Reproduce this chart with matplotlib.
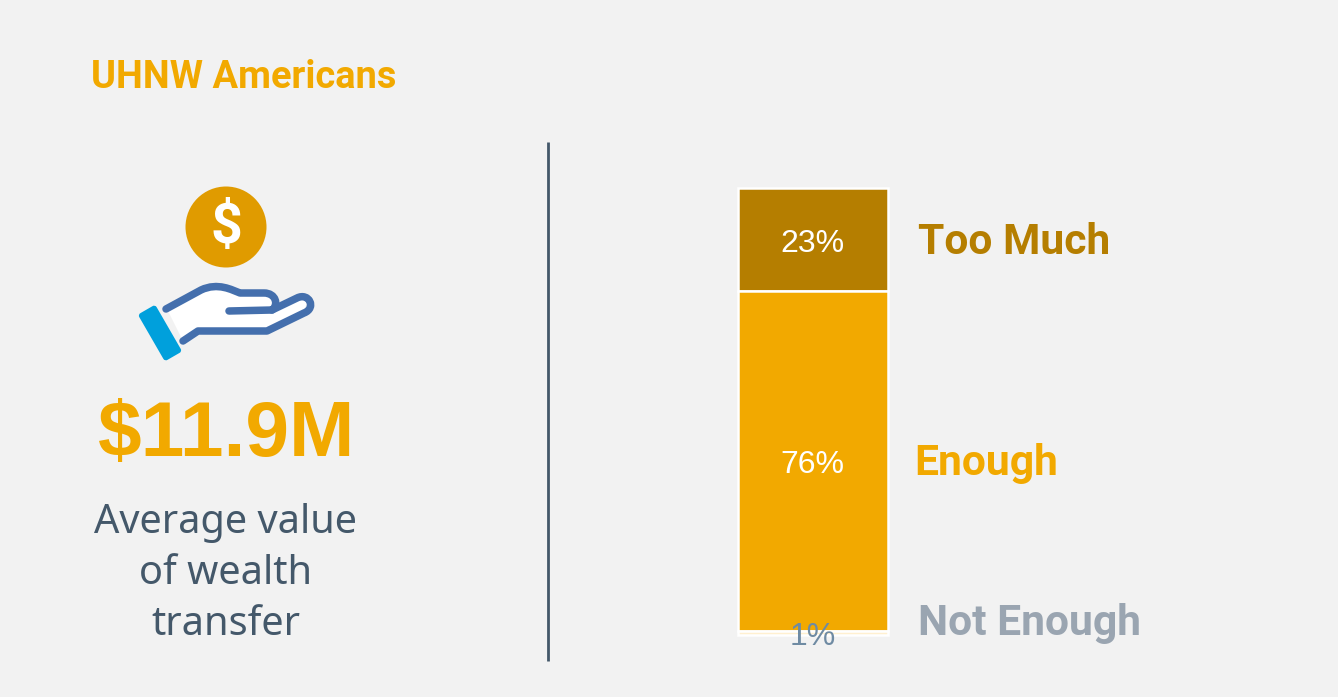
import matplotlib
matplotlib.use("Agg")
import matplotlib.pyplot as plt
from matplotlib.patches import Circle, FancyBboxPatch, PathPatch, Polygon
from matplotlib.path import Path
from matplotlib.transforms import Affine2D

# Share of respondents, stacked from the top of the column
segments = ["Too Much", "Enough", "Not Enough"]
shares = [23, 76, 1]
segment_colors = ["#b57e00", "#f2a900", "#fff0d0"]
label_colors = ["#b57e00", "#f2a900", "#9aa5b1"]
value_text_colors = ["#ffffff", "#ffffff", "#6f8ba3"]

title = "UHNW Americans"
headline = "$11.9M"
caption = ["Average value", "of wealth", "transfer"]

BG = "#f2f2f2"
SLATE = "#44586a"
W, H = 1338, 697

fig = plt.figure(figsize=(W / 100, H / 100), dpi=100, facecolor=BG)

# Canvas axes in pixel units for the text panel and the icon
cv = fig.add_axes([0, 0, 1, 1])
cv.set_xlim(0, W)
cv.set_ylim(H, 0)
cv.axis("off")

cv.text(91, 77, title, color="#f2a900", fontsize=27.4, fontweight="bold",
        family="Roboto", ha="left", va="center")
cv.text(226.5, 436, headline, color="#f2a900", fontsize=56.5, fontweight="bold",
        family="Liberation Sans", ha="center", va="center")
for y, line in zip([523, 574, 625], caption):
    cv.text(226, y, line, color=SLATE, fontsize=28.6, family="Noto Sans",
            ha="center", va="center")

cv.plot([548, 548], [142, 661], color=SLATE, lw=2.0, solid_capstyle="butt")

# Coin
cv.add_patch(Circle((226, 227), 40.5, color="#e09b00", lw=0))
cv.text(226.5, 228, "$", color="white", fontsize=40, fontweight="bold",
        family="Roboto", ha="center", va="center")

# Open hand
palm = Polygon([(167, 309), (200, 291), (218, 285), (240, 293), (265, 294),
                (274, 300), (272, 310), (297, 298), (307, 302), (304, 311),
                (266, 331), (198, 331), (183, 341)],
               closed=True, facecolor="white", edgecolor="none", zorder=2)
cv.add_patch(palm)
BLUE = "#446fad"
upper = Path([(166, 309), (201, 290), (218, 282), (232, 290), (240, 293),
              (264, 293), (276, 293), (279, 305), (272, 310), (229, 311)],
             [Path.MOVETO, Path.LINETO, Path.CURVE4, Path.CURVE4, Path.CURVE4,
              Path.LINETO, Path.CURVE4, Path.CURVE4, Path.CURVE4, Path.LINETO])
lower = Path([(272, 310), (297, 298), (309, 292), (317, 308), (304, 313),
              (267, 331), (198, 331), (183, 341)],
             [Path.MOVETO, Path.LINETO, Path.CURVE4, Path.CURVE4, Path.CURVE4,
              Path.LINETO, Path.LINETO, Path.LINETO])
for p in (upper, lower):
    cv.add_patch(PathPatch(p, facecolor="none", edgecolor=BLUE, lw=5.4,
                           capstyle="round", joinstyle="round", zorder=3))

# Cuff: a rounded bar turned to the slope of the wrist
cuff = FancyBboxPatch((-7, -24), 14, 48, boxstyle="round,pad=3,rounding_size=3",
                      facecolor="#00a0dc", edgecolor="none", zorder=3)
cuff.set_transform(Affine2D().rotate_deg(-30).translate(160, 333) + cv.transData)
cv.add_patch(cuff)

# Stacked column
ax = fig.add_axes([738 / W, (H - 635) / H, 150 / W, 447 / H])
ax.set_xlim(0, 1)
ax.set_ylim(sum(shares), 0)
ax.axis("off")
start = 0
for name, share, color, txt in zip(segments, shares, segment_colors, value_text_colors):
    ax.bar(0.5, share, width=1, bottom=start, color=color, edgecolor="white",
           lw=1.8, clip_on=False)
    ax.annotate(f"{share}%", (0.5, start + share / 2), xytext=(-0.5, -3),
                textcoords="offset points", color=txt, fontsize=23,
                family="Liberation Sans", ha="center", va="center",
                annotation_clip=False)
    start += share

# Category names beside the column
for (x, y), name, color in zip([(918, 242), (914, 463), (918, 624)], segments, label_colors):
    cv.text(x, y, name, color=color, fontsize=30.7, fontweight="bold",
            family="Roboto", ha="left", va="center")

fig.savefig("out.png", dpi=100, facecolor=BG)
